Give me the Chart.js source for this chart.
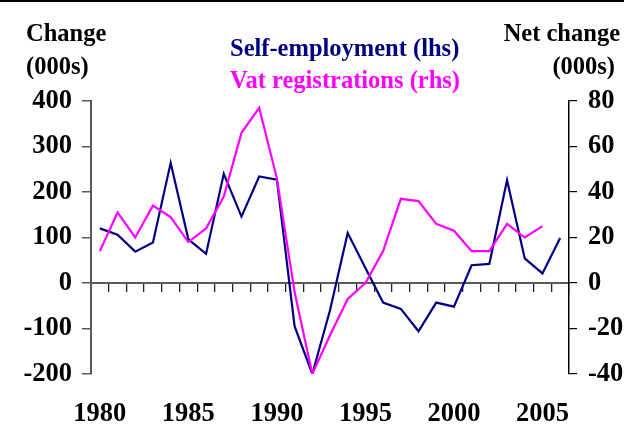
<!DOCTYPE html>
<html>
<head>
<meta charset="utf-8">
<script src="https://cdn.jsdelivr.net/npm/chart.js@4.4.1/dist/chart.umd.min.js"></script>
<style>
  html, body { margin: 0; padding: 0; background: #ffffff; }
  #wrap { width: 624px; height: 427px; position: relative; }
</style>
</head>
<body>
<div id="wrap"><canvas id="c" width="624" height="427"></canvas></div>
<script>
// ---- data ----
const years = ["1980","1981","1982","1983","1984","1985","1986","1987","1988","1989",
               "1990","1991","1992","1993","1994","1995","1996","1997","1998","1999",
               "2000","2001","2002","2003","2004","2005","2006"];
const selfEmployment = [120,106,69,89,264,96,64,240,146,234,227,-95,-200,-60,110,33,-43,-57,-106,-43,-52,39,42,226,54,21,99];
const vatRegistrations = [14,31,20,34,29,18,24,38,66,77,46,-4,-40,-23,-7,0,14,37,36,26,23,14,14,26,20,25,null];
const leftTicks = [-200,-100,0,100,200,300,400];
const rightTicks = [-40,-20,0,20,40,60,80];
const seriesNames = ["Self-employment (lhs)", "Vat registrations (rhs)"];
const leftTitle = ["Change", "(000s)"];
const rightTitle = ["Net change", "(000s)"];

const FONT = "'Liberation Serif', 'Times New Roman', serif";
const NAVY = "#000080";
const MAGENTA = "#FF00FF";
const AXIS_GREY = "#5a5a5a";

const headerPlugin = {
  id: 'header',
  beforeDraw(chart) {
    const ctx = chart.ctx;
    ctx.save();
    ctx.fillStyle = '#000';
    ctx.fillRect(0, 0, chart.width, 2);
    ctx.restore();
  },
  afterDraw(chart) {
    const ctx = chart.ctx;
    ctx.save();
    ctx.font = "bold 24.5px " + FONT;
    ctx.textBaseline = 'alphabetic';
    ctx.fillStyle = '#000';
    ctx.textAlign = 'left';
    ctx.fillText(leftTitle[0], 26, 41);
    ctx.fillText(leftTitle[1], 26, 74);
    ctx.textAlign = 'right';
    ctx.fillText(rightTitle[0], 620, 41);
    ctx.fillText(rightTitle[1], 615, 74);
    ctx.textAlign = 'left';
    ctx.fillStyle = NAVY;
    ctx.fillText(seriesNames[0], 230, 56);
    ctx.fillStyle = MAGENTA;
    ctx.fillText(seriesNames[1], 230, 88);
    ctx.restore();
  }
};

new Chart(document.getElementById('c'), {
  type: 'line',
  data: {
    labels: years,
    datasets: [
      {
        label: seriesNames[1],
        data: vatRegistrations,
        yAxisID: 'y1',
        xAxisID: 'x',
        borderColor: MAGENTA,
        backgroundColor: MAGENTA,
        borderWidth: 2.2,
        pointRadius: 0,
        tension: 0,
        fill: false
      },
      {
        label: seriesNames[0],
        data: selfEmployment,
        yAxisID: 'y',
        xAxisID: 'x',
        borderColor: NAVY,
        backgroundColor: NAVY,
        borderWidth: 2.2,
        pointRadius: 0,
        tension: 0,
        fill: false
      }
    ]
  },
  options: {
    responsive: false,
    animation: false,
    devicePixelRatio: 1,
    layout: { padding: { top: 101, left: 0, right: 0, bottom: 0 } },
    plugins: {
      legend: { display: false },
      tooltip: { enabled: false },
      title: { display: false }
    },
    scales: {
      x: {
        type: 'category',
        position: 'bottom',
        offset: true,
        grid: { display: false, drawTicks: false, offset: true },
        border: { display: false },
        ticks: {
          autoSkip: false,
          maxRotation: 0,
          minRotation: 0,
          padding: 24,
          color: '#000',
          font: { family: FONT, size: 26.5, weight: 'bold' },
          callback: function(val) {
            const l = this.getLabelForValue(val);
            return (parseInt(l, 10) % 5 === 0) ? l : '';
          }
        },
        afterFit(scale) { scale.height = 53; }
      },
      x2: {
        type: 'category',
        axis: 'x',
        position: { y: 0 },
        offset: true,
        grid: {
          display: true,
          drawOnChartArea: false,
          drawTicks: true,
          tickLength: 8,
          offset: true,
          color: '#222',
          lineWidth: 1.3
        },
        border: { display: true, color: AXIS_GREY, width: 2 },
        ticks: { display: false, autoSkip: false }
      },
      y: {
        type: 'linear',
        position: 'left',
        min: -200,
        max: 400,
        afterBuildTicks(scale) { scale.ticks = leftTicks.map(v => ({ value: v })); },
        grid: { drawOnChartArea: false, drawTicks: true, tickLength: 9, color: AXIS_GREY, lineWidth: 1.5 },
        border: { display: true, color: AXIS_GREY, width: 2 },
        ticks: {
          padding: 10,
          color: '#000',
          font: { family: FONT, size: 26.5, weight: 'bold' }
        },
        afterFit(scale) { scale.width = 91; }
      },
      y1: {
        type: 'linear',
        position: 'right',
        min: -40,
        max: 80,
        afterBuildTicks(scale) { scale.ticks = rightTicks.map(v => ({ value: v })); },
        grid: { drawOnChartArea: false, drawTicks: true, tickLength: 8, color: '#000', lineWidth: 1.2 },
        border: { display: true, color: '#000', width: 1.5 },
        ticks: {
          padding: 11,
          color: '#000',
          font: { family: FONT, size: 26.5, weight: 'bold' }
        },
        afterFit(scale) { scale.width = 55; }
      }
    }
  },
  plugins: [headerPlugin]
});
</script>
</body>
</html>
